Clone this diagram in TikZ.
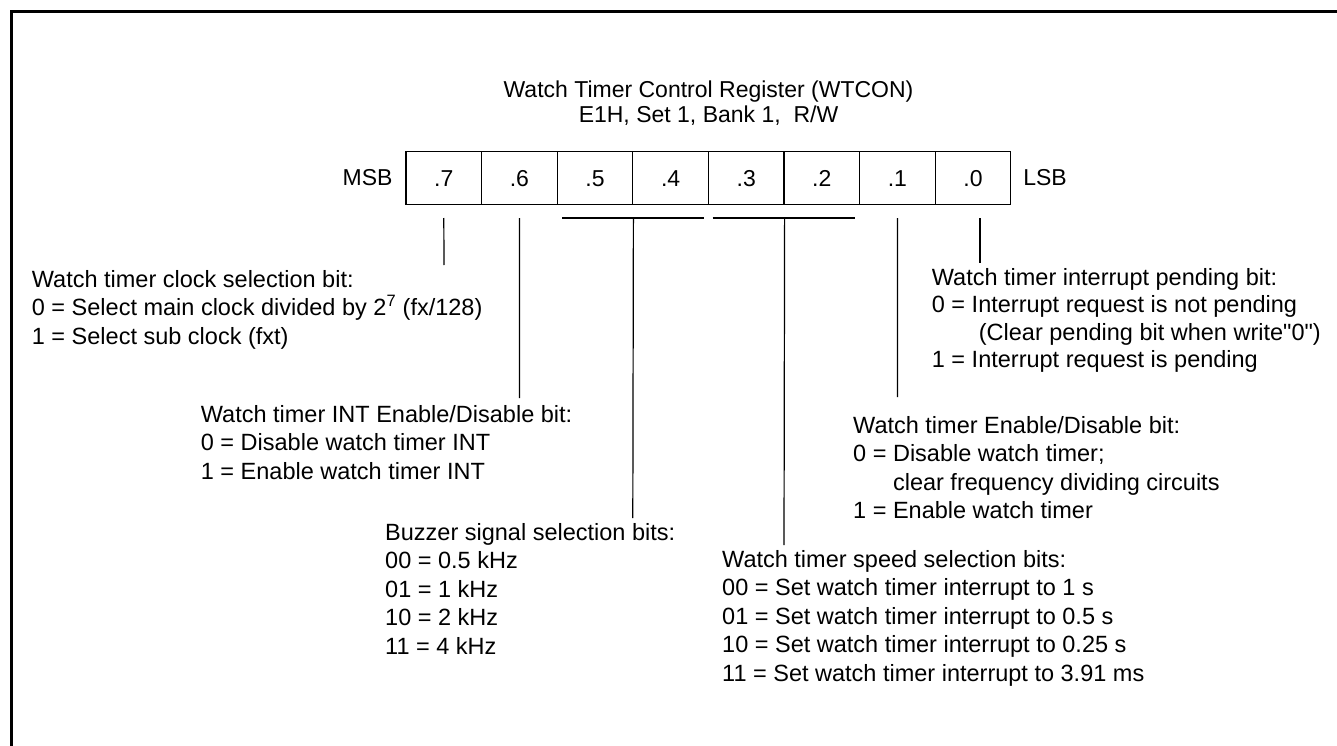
\documentclass[tikz,border=0pt]{standalone}
\usepackage{fontspec}
\setmainfont{Liberation Sans}
\newfontfamily\qf{Liberation Sans}
\newcommand\fl{\rule{0pt}{17pt}}
\begin{document}
\begin{tikzpicture}[x=1pt,y=-1pt,
  cell/.style={draw,line width=1.2pt,minimum width=75.6pt,minimum height=52.3pt,inner sep=0pt,text height=16.5pt,text depth=0pt,font=\fontsize{23}{28}\selectfont},
  lbl/.style={inner sep=0pt,font=\fontsize{23}{28}\selectfont},
  desc/.style={inner sep=0pt,anchor=north west,align=left,font=\fontsize{23.5}{28.5}\selectfont},
  conn/.style={line width=1.2pt}]
\useasboundingbox (0,0) rectangle (1337,746);
\clip (0,0) rectangle (1337,746);
\draw[line width=2.7pt] (11.3,760) -- (11.3,11.3) -- (1350,11.3);
% title
\node[lbl,anchor=base] (title1) at (708.5,98) {Watch Timer Control Register (WTCON)};
\node[lbl,anchor=base] (title2) at (708.5,123) {E1H, Set 1, Bank 1,\ \ R/W};
% register cells
\foreach \i/\t in {0/7,1/6,2/5,3/4,4/3,5/2,6/1,7/0}
  \node[cell] (c\t) at ({406+75.6*(\i+0.5)},178) {.\t};
\node[lbl,anchor=east] (msb) at ([xshift=-12.7pt]c7.west) {MSB};
\node[lbl,anchor=west] (lsb) at ([xshift=11.7pt]c0.east) {LSB};
% descriptions
\node[desc] (b1) at (31.7,270) {\fl Watch timer clock selection bit:\\
0 = Select main clock divided by 2\textsuperscript{7} (fx/128)\\
1 = Select sub clock (fxt)};
\node[desc,font=\fontsize{23.5}{27.5}\selectfont] (b6) at (931.7,268) {\fl Watch timer interrupt pending bit:\\
0 = Interrupt request is not pending\\
\hspace*{47pt}(Clear pending bit when write{\qf"}0{\qf"})\\
1 = Interrupt request is pending};
\node[desc] (b2) at (200.7,405) {\fl Watch timer INT Enable/Disable bit:\\
0 = Disable watch timer INT\\
1 = Enable watch timer INT};
\node[desc] (b5) at (853,416) {\fl Watch timer Enable/Disable bit:\\
0 = Disable watch timer;\\
\phantom{0 = }clear frequency dividing circuits\\
1 = Enable watch timer};
\node[desc] (b3) at (385,523) {\fl Buzzer signal selection bits:\\
00 = 0.5 kHz\\
01 = 1 kHz\\
10 = 2 kHz\\
11 = 4 kHz};
\node[desc] (b4) at (722,550) {\fl Watch timer speed selection bits:\\
00 = Set watch timer interrupt to 1 s\\
01 = Set watch timer interrupt to 0.5 s\\
10 = Set watch timer interrupt to 0.25 s\\
11 = Set watch timer interrupt to 3.91 ms};
% connector coordinates
\coordinate (brl) at (0,218);
\coordinate (e7) at (444,265);
\coordinate (e6) at (519.4,398);
\coordinate (e54) at (632.8,518);
\coordinate (e32) at (784,545);
\coordinate (e1) at (897.4,397);
\coordinate (e0) at (980,263);
\coordinate (l54) at (562,218);
\coordinate (r54) at (704,218);
\coordinate (l32) at (712.7,218);
\coordinate (r32) at (855,218);
\draw[conn] (c7.south |- brl) -- (e7);
\draw[conn] (c6.south |- brl) -- (e6);
\draw[conn] (l54) -- (r54);
\draw[conn] (c5.south east |- brl) -- (e54);
\draw[conn] (l32) -- (r32);
\draw[conn] (c3.south east |- brl) -- (e32);
\draw[conn] (c1.south |- brl) -- (e1);
\draw[conn] (e0 |- brl) -- (e0);
\end{tikzpicture}
\end{document}
